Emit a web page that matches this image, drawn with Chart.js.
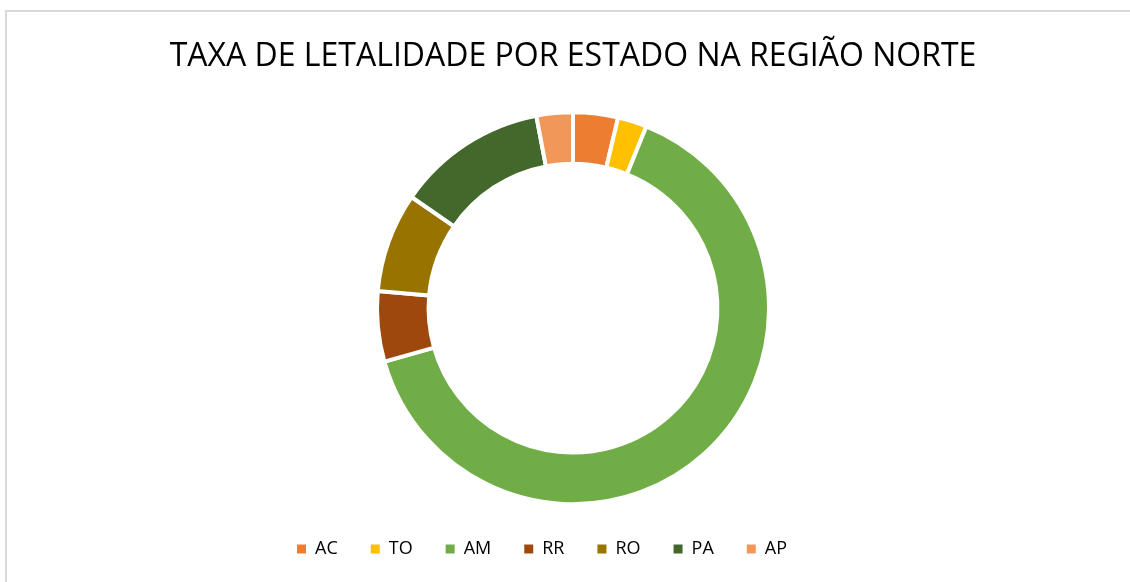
<!DOCTYPE html>
<html>
<head>
<meta charset="utf-8">
<script src="https://cdn.jsdelivr.net/npm/chart.js@4.4.0/dist/chart.umd.min.js"></script>
<style>
  html, body { margin: 0; padding: 0; background: #fff; overflow: hidden; }
  #frame { position: absolute; left: 5px; top: 10px; width: 1140px; height: 600px; border: 2px solid #d9d9d9; }
  #wrap { position: absolute; left: 0; top: 0; width: 1130px; height: 582px; }
</style>
</head>
<body>
<div id="frame"></div>
<div id="wrap"><canvas id="chartLetalidade"></canvas></div>
<script>
var estados = ["AC", "TO", "AM", "RR", "RO", "PA", "AP"];
var taxas = [3.7, 2.4, 64.5, 5.8, 8.2, 12.4, 3.0];
var cores = ["#ED7D31", "#FFC000", "#70AD47", "#9E480E", "#997300", "#43682B", "#F1975A"];

// a legenda do original fica um pouco à esquerda do centro
var moverLegenda = {
    id: "moverLegenda",
    afterLayout: function (chart) {
        chart.legend.left -= 31;
        chart.legend.right -= 31;
    }
};

var ctx = document.getElementById("chartLetalidade");
var chart = new Chart(ctx, {
    type: "doughnut",
    data: {
        labels: estados,
        datasets: [
            {
                data: taxas,
                backgroundColor: cores,
                borderColor: "#ffffff",
                borderWidth: 4,
                hoverOffset: 0
            }
        ]
    },
    options: {
        responsive: true,
        maintainAspectRatio: false,
        animation: false,
        radius: 196,
        cutout: 145,
        layout: { padding: { left: 16, bottom: 14 } },
        plugins: {
            tooltip: { enabled: false },
            title: {
                display: true,
                text: "TAXA DE LETALIDADE POR ESTADO NA REGIÃO NORTE",
                color: "#000000",
                font: { family: "'Open Sans'", size: 32, weight: "normal" },
                padding: { top: 38, bottom: 33 }
            },
            legend: {
                position: "bottom",
                labels: {
                    color: "#000000",
                    boxWidth: 9,
                    boxHeight: 9,
                    padding: 33,
                    font: { family: "'Open Sans'", size: 18 },
                    generateLabels: function (chart) {
                        // caixas da legenda sem a borda branca
                        return estados.map(function (nome, i) {
                            return {
                                text: nome,
                                fillStyle: cores[i],
                                strokeStyle: cores[i],
                                lineWidth: 0,
                                fontColor: "#000000",
                                hidden: false,
                                index: i
                            };
                        });
                    }
                }
            }
        }
    },
    plugins: [moverLegenda]
});
</script>
</body>
</html>
